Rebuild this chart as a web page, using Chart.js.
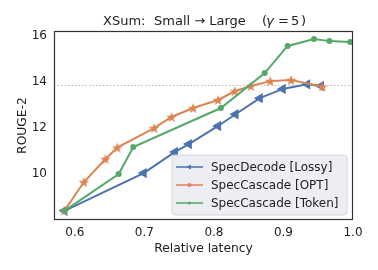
<!DOCTYPE html>
<html>
<head>
<meta charset="utf-8">
<script src="https://cdn.jsdelivr.net/npm/chart.js@4"></script>
<style>
  html, body { margin: 0; padding: 0; background: #fff; }
  #wrap { width: 378px; height: 270px; }
</style>
</head>
<body>
<div id="wrap"><canvas id="chart" width="378" height="270"></canvas></div>
<script>
// values
const lossyX = [0.585, 0.699, 0.744, 0.764, 0.806, 0.831, 0.866, 0.899, 0.934, 0.954];
const lossyY = [8.40, 10.04, 10.96, 11.30, 12.09, 12.60, 13.30, 13.70, 13.90, 13.83];
const optX = [0.585, 0.613, 0.644, 0.661, 0.714, 0.739, 0.770, 0.806, 0.830, 0.853, 0.881, 0.911, 0.956];
const optY = [8.40, 9.65, 10.65, 11.15, 12.00, 12.48, 12.87, 13.22, 13.60, 13.83, 14.04, 14.09, 13.80];
const tokenX = [0.585, 0.663, 0.684, 0.810, 0.873, 0.906, 0.944, 0.966, 0.996];
const tokenY = [8.40, 10.00, 11.17, 12.87, 14.39, 15.57, 15.87, 15.78, 15.74];
const refLineX = [0.57, 1.0];
const refLineY = [13.85, 13.85];

const xTicks = [0.6, 0.7, 0.8, 0.9, 1.0];
const yTicks = [10, 12, 14, 16];

const FONT = "'DejaVu Sans', sans-serif";
const BLUE = "#4c72b0", ORANGE = "#dd8452", GREEN = "#55a868";

function zip(xs, ys) {
    return xs.map((x, i) => ({ x: x, y: ys[i] }));
}

function makeStar(size, color) {
    const c = document.createElement("canvas");
    c.width = size; c.height = size;
    const g = c.getContext("2d");
    const cx = size / 2, cy = size / 2 + 0.5, ro = size / 2 - 0.5, ri = ro * 0.42;
    g.beginPath();
    for (let i = 0; i < 10; i++) {
        const r = i % 2 === 0 ? ro : ri;
        const a = -Math.PI / 2 + i * Math.PI / 5;
        g.lineTo(cx + r * Math.cos(a), cy + r * Math.sin(a));
    }
    g.closePath();
    g.fillStyle = color;
    g.fill();
    return c;
}
const starImg = makeStar(12, ORANGE);

// title, gamma in italic; pieces spaced like the reference
const titlePlugin = {
    id: "titlePlugin",
    afterDraw(chart) {
        const g = chart.ctx;
        const parts = [
            ["XSum:", "normal", 0],
            ["Small \u2192 Large", "normal", 51],
            ["(", "normal", 159],
            ["\u03b3", "italic", 163],
            ["=", "normal", 175],
            ["5", "normal", 188],
            [")", "normal", 198]
        ];
        g.save();
        g.fillStyle = "#222";
        g.textBaseline = "middle";
        const x0 = 103;
        parts.forEach(p => {
            g.font = p[1] + " 13px " + FONT;
            g.fillText(p[0], x0 + p[2], 22);
        });
        g.restore();
    }
};

// frame around plot + legend inside
const framePlugin = {
    id: "framePlugin",
    afterDatasetsDraw(chart) {
        const g = chart.ctx;
        const ca = chart.chartArea;
        g.save();
        g.strokeStyle = "#333";
        g.lineWidth = 1.2;
        g.strokeRect(ca.left + 0.5, ca.top + 0.5, ca.right - ca.left - 1, ca.bottom - ca.top - 1);

        // legend box
        const lx = 172, ly = 155, lw = 175, lh = 60, r = 3;
        g.beginPath();
        g.moveTo(lx + r, ly);
        g.arcTo(lx + lw, ly, lx + lw, ly + lh, r);
        g.arcTo(lx + lw, ly + lh, lx, ly + lh, r);
        g.arcTo(lx, ly + lh, lx, ly, r);
        g.arcTo(lx, ly, lx + lw, ly, r);
        g.closePath();
        g.fillStyle = "rgba(234,234,242,0.85)";
        g.fill();
        g.lineWidth = 1;
        g.strokeStyle = "#d4d6de";
        g.stroke();

        const items = chart.data.datasets.filter(d => d.inLegend);
        g.font = "12px " + FONT;
        g.textBaseline = "middle";
        items.forEach((d, i) => {
            const y = 167 + i * 18;
            g.strokeStyle = d.borderColor;
            g.lineWidth = 1.5;
            g.beginPath();
            g.moveTo(176, y);
            g.lineTo(203, y);
            g.stroke();
            g.fillStyle = d.borderColor;
            g.beginPath();
            if (d.legendMark === "tri") {
                g.moveTo(186, y); g.lineTo(191, y - 2.5); g.lineTo(191, y + 2.5);
            } else if (d.legendMark === "star") {
                g.arc(189.5, y, 2, 0, Math.PI * 2);
            } else {
                g.arc(189.5, y, 1.5, 0, Math.PI * 2);
            }
            g.fill();
            g.fillStyle = "#222";
            g.fillText(d.label, 211, y + 0.5);
        });
        g.restore();
    }
};

new Chart(document.getElementById("chart"), {
    type: "scatter",
    data: {
        datasets: [
            {
                label: "SpecDecode [Lossy]",
                data: zip(lossyX, lossyY),
                showLine: true,
                borderColor: BLUE,
                backgroundColor: BLUE,
                borderWidth: 2,
                pointStyle: "triangle",
                pointRotation: -90,
                pointRadius: 6,
                pointBorderWidth: 0,
                inLegend: true,
                legendMark: "tri",
                order: 2
            },
            {
                label: "SpecCascade [OPT]",
                data: zip(optX, optY),
                showLine: true,
                borderColor: ORANGE,
                backgroundColor: ORANGE,
                borderWidth: 2,
                pointStyle: starImg,
                inLegend: true,
                legendMark: "star",
                order: 1
            },
            {
                label: "SpecCascade [Token]",
                data: zip(tokenX, tokenY),
                showLine: true,
                borderColor: GREEN,
                backgroundColor: GREEN,
                borderWidth: 2,
                pointStyle: "circle",
                pointRadius: 3,
                pointBorderWidth: 0,
                inLegend: true,
                legendMark: "dot",
                order: 0
            },
            {
                label: "ref",
                data: zip(refLineX, refLineY),
                showLine: true,
                borderColor: "#b8b8b8",
                borderWidth: 1,
                borderDash: [1.5, 2],
                pointRadius: 0,
                inLegend: false,
                order: 3
            }
        ]
    },
    options: {
        responsive: false,
        animation: false,
        events: [],
        layout: { padding: { left: 15, right: 25, top: 31, bottom: 14 } },
        plugins: {
            legend: { display: false },
            tooltip: { enabled: false },
            title: { display: false }
        },
        scales: {
            x: {
                type: "linear",
                min: 0.57,
                max: 1.0,
                afterBuildTicks: s => { s.ticks = xTicks.map(v => ({ value: v })); },
                afterFit: s => { s.height = 36; },
                grid: { display: false, drawTicks: false },
                border: { display: false },
                ticks: {
                    color: "#222",
                    font: { family: FONT, size: 12 },
                    padding: 6,
                    maxRotation: 0,
                    callback: v => v.toFixed(1)
                },
                title: {
                    display: true,
                    text: "Relative latency",
                    color: "#222",
                    font: { family: FONT, size: 12.3 },
                    padding: { top: 0, bottom: 0 }
                }
            },
            y: {
                type: "linear",
                min: 8.0,
                max: 16.22,
                afterBuildTicks: s => { s.ticks = yTicks.map(v => ({ value: v })); },
                afterFit: s => { s.width = 39; },
                grid: { display: false, drawTicks: false },
                border: { display: false },
                ticks: {
                    color: "#222",
                    font: { family: FONT, size: 12 },
                    padding: 7,
                    callback: v => String(v)
                },
                title: {
                    display: true,
                    text: "ROUGE-2",
                    color: "#222",
                    font: { family: FONT, size: 12.3 },
                    padding: { top: 0, bottom: 0 }
                }
            }
        }
    },
    plugins: [titlePlugin, framePlugin]
});
</script>
</body>
</html>
